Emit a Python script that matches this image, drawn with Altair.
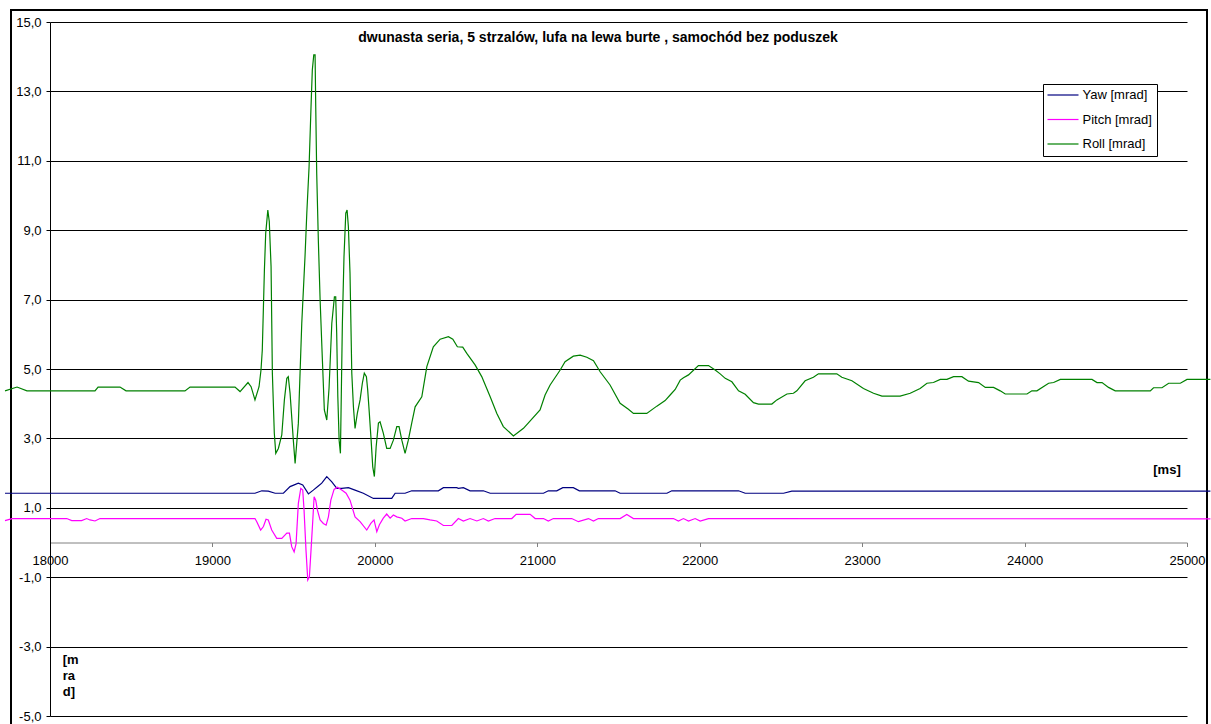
import altair as alt
import pandas as pd

# Time stamps [ms] and angles [mrad] for each channel
ROLL = [
    (17723, 4.37), (17797, 4.48), (17858, 4.37), (18277, 4.37), (18296, 4.48),
    (18431, 4.48), (18468, 4.37), (18831, 4.37), (18862, 4.48), (19139, 4.48),
    (19170, 4.35), (19219, 4.61), (19238, 4.49), (19262, 4.11), (19287, 4.49),
    (19299, 4.97), (19307, 5.55), (19320, 7.85), (19328, 8.91), (19341, 9.58),
    (19350, 9.25), (19361, 7.95), (19369, 4.88), (19381, 3.15), (19390, 2.57),
    (19406, 2.71), (19427, 3.10), (19443, 4.11), (19458, 4.73), (19467, 4.78),
    (19478, 4.30), (19498, 2.95), (19509, 2.28), (19529, 3.44), (19550, 6.32),
    (19570, 8.24), (19581, 9.49), (19595, 10.83), (19607, 12.56), (19615, 13.62),
    (19624, 14.05), (19632, 14.05), (19636, 12.56), (19642, 10.64), (19652, 8.72),
    (19663, 6.99), (19677, 5.26), (19689, 3.82), (19704, 3.53), (19718, 4.45),
    (19735, 6.32), (19751, 7.08), (19759, 7.08), (19765, 6.04), (19772, 4.20),
    (19780, 2.95), (19788, 2.57), (19800, 6.32), (19810, 8.24), (19821, 9.49),
    (19829, 9.58), (19837, 9.10), (19847, 7.76), (19858, 4.88), (19868, 3.91),
    (19878, 3.29), (19892, 3.72), (19909, 4.11), (19923, 4.59), (19935, 4.88),
    (19948, 4.78), (19956, 4.39), (19966, 3.72), (19977, 2.95), (19987, 2.18),
    (19997, 1.90), (20008, 2.76), (20022, 3.44), (20032, 3.48), (20052, 3.15),
    (20073, 2.71), (20094, 2.71), (20114, 2.95), (20135, 3.34), (20149, 3.34),
    (20166, 2.95), (20186, 2.57), (20206, 2.95), (20227, 3.44), (20248, 3.91),
    (20289, 4.20), (20320, 5.07), (20360, 5.64), (20402, 5.86), (20453, 5.93),
    (20480, 5.86), (20508, 5.64), (20541, 5.63), (20566, 5.45), (20617, 5.12),
    (20658, 4.78), (20710, 4.20), (20751, 3.72), (20791, 3.34), (20853, 3.07),
    (20915, 3.29), (21017, 3.82), (21048, 4.25), (21079, 4.54), (21141, 4.97),
    (21171, 5.21), (21222, 5.37), (21264, 5.40), (21305, 5.34), (21346, 5.24),
    (21387, 4.92), (21448, 4.54), (21510, 4.01), (21561, 3.84), (21592, 3.72),
    (21674, 3.72), (21736, 3.93), (21787, 4.09), (21818, 4.25), (21849, 4.41),
    (21880, 4.68), (21900, 4.75), (21931, 4.83), (21992, 5.10), (22054, 5.10),
    (22095, 4.97), (22126, 4.86), (22157, 4.73), (22198, 4.63), (22239, 4.37),
    (22280, 4.27), (22331, 4.03), (22362, 3.99), (22444, 3.99), (22475, 4.11),
    (22537, 4.28), (22577, 4.30), (22598, 4.37), (22649, 4.66), (22700, 4.76),
    (22731, 4.86), (22844, 4.86), (22875, 4.76), (22937, 4.66), (23008, 4.44),
    (23070, 4.30), (23122, 4.22), (23234, 4.22), (23296, 4.30), (23357, 4.44),
    (23399, 4.59), (23439, 4.61), (23481, 4.70), (23522, 4.70), (23563, 4.78),
    (23614, 4.78), (23655, 4.65), (23717, 4.61), (23758, 4.47), (23809, 4.47),
    (23850, 4.37), (23881, 4.28), (24015, 4.28), (24045, 4.37), (24076, 4.37),
    (24148, 4.59), (24179, 4.61), (24220, 4.70), (24415, 4.70), (24446, 4.61),
    (24477, 4.61), (24517, 4.47), (24558, 4.37), (24774, 4.37), (24794, 4.46),
    (24846, 4.46), (24887, 4.59), (24959, 4.59), (25000, 4.70), (25144, 4.70),
]

YAW = [
    (17723, 1.42), (19262, 1.42), (19304, 1.49), (19344, 1.48), (19386, 1.42),
    (19437, 1.42), (19478, 1.61), (19529, 1.71), (19556, 1.66), (19591, 1.40),
    (19621, 1.51), (19652, 1.63), (19673, 1.71), (19704, 1.90), (19735, 1.75),
    (19766, 1.56), (19796, 1.56), (19837, 1.58), (19878, 1.51), (19929, 1.42),
    (19991, 1.27), (20104, 1.27), (20125, 1.42), (20186, 1.42), (20227, 1.49),
    (20391, 1.49), (20422, 1.58), (20504, 1.58), (20514, 1.56), (20545, 1.58),
    (20586, 1.49), (20668, 1.49), (20710, 1.42), (21038, 1.42), (21068, 1.49),
    (21120, 1.49), (21157, 1.58), (21222, 1.58), (21259, 1.49), (21479, 1.49),
    (21510, 1.42), (21798, 1.42), (21828, 1.49), (22239, 1.49), (22280, 1.42),
    (22516, 1.42), (22567, 1.48), (25144, 1.48),
]

PITCH = [
    (17723, 0.63), (17766, 0.69), (18103, 0.69), (18134, 0.63), (18195, 0.63),
    (18226, 0.69), (18246, 0.65), (18277, 0.62), (18308, 0.69), (19262, 0.69),
    (19273, 0.60), (19297, 0.36), (19314, 0.46), (19330, 0.67), (19344, 0.65),
    (19365, 0.36), (19396, 0.12), (19427, 0.12), (19458, 0.27), (19474, 0.27),
    (19488, -0.12), (19503, -0.27), (19515, -0.03), (19529, 1.13), (19544, 1.56),
    (19556, 1.51), (19564, 0.94), (19576, -0.22), (19587, -1.08), (19597, -0.99),
    (19607, -0.22), (19618, 0.65), (19626, 1.32), (19636, 1.22), (19646, 0.94),
    (19663, 0.65), (19683, 0.55), (19700, 0.50), (19714, 0.74), (19729, 1.22),
    (19749, 1.53), (19769, 1.59), (19796, 1.51), (19823, 1.42), (19847, 1.22),
    (19878, 0.74), (19909, 0.60), (19950, 0.36), (19975, 0.55), (19995, 0.65),
    (20012, 0.31), (20028, 0.51), (20052, 0.70), (20073, 0.82), (20094, 0.70),
    (20114, 0.79), (20135, 0.74), (20166, 0.70), (20186, 0.62), (20227, 0.69),
    (20299, 0.69), (20340, 0.65), (20381, 0.62), (20422, 0.49), (20474, 0.49),
    (20514, 0.69), (20545, 0.62), (20586, 0.69), (20628, 0.62), (20668, 0.69),
    (20699, 0.62), (20740, 0.69), (20843, 0.69), (20870, 0.81), (20956, 0.81),
    (20987, 0.69), (21038, 0.69), (21068, 0.62), (21099, 0.69), (21212, 0.69),
    (21253, 0.60), (21315, 0.69), (21346, 0.62), (21376, 0.69), (21510, 0.69),
    (21551, 0.81), (21592, 0.69), (21838, 0.69), (21869, 0.62), (21900, 0.69),
    (21931, 0.62), (21972, 0.69), (22003, 0.62), (22054, 0.69), (25144, 0.68),
]

SERIES_NAMES = ["Yaw [mrad]", "Pitch [mrad]", "Roll [mrad]"]
SERIES_COLORS = ["#000080", "#FF00FF", "#008000"]
X_TICKS = [18000, 19000, 20000, 21000, 22000, 23000, 24000, 25000]
Y_TICKS = [-5, -3, -1, 1, 3, 5, 7, 9, 11, 13, 15]

TITLE = "dwunasta seria, 5 strzalów, lufa na lewa burte , samochód bez poduszek"
X_UNIT = "[ms]"
Y_UNIT = "[m\nra\nd]"

FONT = "Liberation Sans"
W, H = 1137, 694

rows = []
for name, pts in zip(SERIES_NAMES, [YAW, PITCH, ROLL]):
    for t, v in pts:
        rows.append({"t": t, "v": v, "series": name})
df = pd.DataFrame(rows)

x_scale = alt.Scale(domain=[18000, 25000], nice=False, zero=False)
y_scale = alt.Scale(domain=[-5, 15], nice=False, zero=False)

lines = alt.Chart(df).mark_line(strokeWidth=1.2, clip=False).encode(
    x=alt.X("t:Q", scale=x_scale,
            axis=alt.Axis(values=X_TICKS, format="d", offset=-173.5, tickSize=4,
                          labelPadding=8, labelFontSize=13, labelFont=FONT,
                          labelColor="#000", domainColor="#808080", tickColor="#808080",
                          grid=False, labelFlush=False, labelOverlap=False, title=None)),
    y=alt.Y("v:Q", scale=y_scale,
            axis=alt.Axis(values=Y_TICKS, tickSize=4, labelPadding=5,
                          labelExpr="(datum.value < 0 ? '-' : '') + replace(format(abs(datum.value), '.1f'), '.', ',')",
                          labelFontSize=13, labelFont=FONT, labelColor="#000",
                          domainColor="#000", tickColor="#000",
                          grid=True, gridColor="#000", gridWidth=1, gridOpacity=1,
                          labelFlush=False, labelOverlap=False, title=None)),
    color=alt.Color("series:N",
                    scale=alt.Scale(domain=SERIES_NAMES, range=SERIES_COLORS),
                    legend=alt.Legend(orient="none", legendX=993, legendY=62, title=None,
                                      fillColor="white", strokeColor="black", padding=4.5,
                                      symbolType="M-2.818,0H2.818", symbolSize=121,
                                      symbolOffset=9, symbolStrokeWidth=1.2,
                                      labelFontSize=13, labelFont=FONT, labelColor="#000",
                                      labelOffset=13, rowPadding=10.5)),
    detail="series:N",
)

frame = alt.Chart(pd.DataFrame({"k": [0]})).mark_rect(
    filled=False, stroke="#000", strokeWidth=2, clip=False
).encode(x=alt.value(-39), x2=alt.value(1157), y=alt.value(-12), y2=alt.value(730))

title = alt.Chart(pd.DataFrame({"s": [TITLE]})).mark_text(
    font=FONT, fontSize=14, fontWeight="bold", align="center", baseline="middle", color="#000"
).encode(text="s:N", x=alt.value(548), y=alt.value(16))

x_unit = alt.Chart(pd.DataFrame({"s": [X_UNIT]})).mark_text(
    font=FONT, fontSize=13, fontWeight="bold", align="center", baseline="middle", color="#000"
).encode(text="s:N", x=alt.value(1117), y=alt.value(448))

y_unit = alt.Chart(pd.DataFrame({"s": [Y_UNIT]})).mark_text(
    font=FONT, fontSize=13, fontWeight="bold", align="left", baseline="middle",
    color="#000", lineBreak="\n", lineHeight=16
).encode(text="s:N", x=alt.value(12.7), y=alt.value(638))

chart = alt.layer(frame, lines, title, x_unit, y_unit).properties(
    width=W, height=H,
    padding={"left": 50, "top": 22, "right": 24, "bottom": 8},
    autosize=alt.AutoSizeParams(type="none"),
    background="white",
).configure_view(stroke=None)

chart.save("out.html", embed_options={"renderer": "svg", "actions": False})
